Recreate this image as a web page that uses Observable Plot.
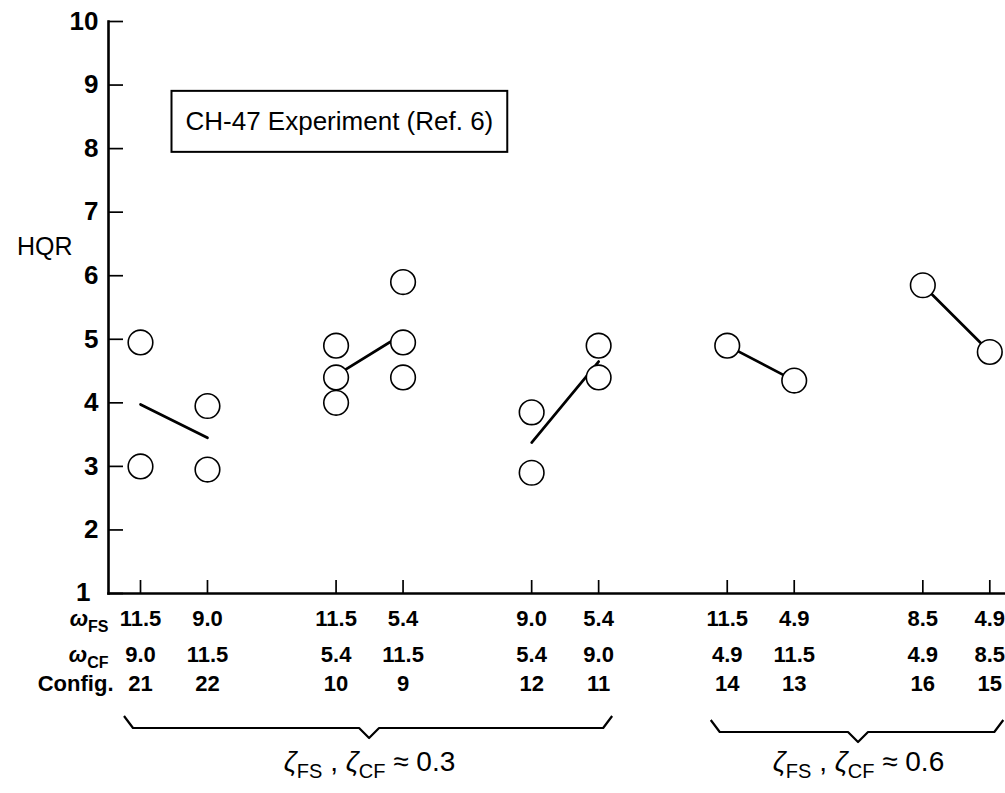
<!DOCTYPE html>
<html>
<head>
<meta charset="utf-8">
<script src="https://cdn.jsdelivr.net/npm/d3@7"></script>
<script src="https://cdn.jsdelivr.net/npm/@observablehq/plot@0.6"></script>
<style>
  html, body { margin: 0; padding: 0; background: #fff; overflow: hidden; }
  #chart svg { display: block; }
</style>
</head>
<body>
<div id="chart"></div>
<script>
// Configurations in the order they sit along the horizontal axis
const configs = ["21", "22", "10", "9", "12", "11", "14", "13", "16", "15"];
// Natural frequencies (rad/s) of the flight-control system and the control feel system
const omegaFS = ["11.5", "9.0", "11.5", "5.4", "9.0", "5.4", "11.5", "4.9", "8.5", "4.9"];
const omegaCF = ["9.0", "11.5", "5.4", "11.5", "5.4", "9.0", "4.9", "11.5", "4.9", "8.5"];

// Individual handling-qualities ratings, one entry per pilot evaluation
const ratingConfig = ["21", "21", "22", "22", "10", "10", "10", "9", "9", "9", "12", "12", "11", "11", "14", "13", "16", "15"];
const ratingHQR    = [4.95, 3.0, 3.95, 2.95, 4.9, 4.4, 4.0, 5.9, 4.95, 4.4, 3.85, 2.9, 4.9, 4.4, 4.9, 4.35, 5.85, 4.8];

// Damping brackets: first and last configuration covered, and the damping ratio
const dampingFirst = ["21", "14"];
const dampingLast  = ["11", "15"];
const dampingValue = ["0.3", "0.6"];

const yTicks = [1, 2, 3, 4, 5, 6, 7, 8, 9, 10];

// ---- layout ----
const W = 1005, H = 793;
const mL = 108, mR = 0, mT = 21, mB = 200;
const frameW = W - mL - mR, frameH = H - mT - mB;
const PAIR_STEP = 2.92;                 // spacing between the config pairs, in slot units
const slotOf = new Map(configs.map((c, i) => [c, Math.floor(i / 2) * PAIR_STEP + (i % 2)]));
const rowDy = [32.5, 68, 97.5];         // table rows below the axis, px

const ratings = ratingConfig.map((c, i) => ({config: c, hqr: ratingHQR[i]}));
const means = configs.map((c, i) => ({
  config: c,
  pair: Math.floor(i / 2),
  hqr: d3.mean(ratings.filter(r => r.config === c), r => r.hqr)
}));
const brackets = dampingValue.map((v, i) => ({
  value: v,
  first: dampingFirst[i],
  last: dampingLast[i],
  mid: (slotOf.get(dampingFirst[i]) + slotOf.get(dampingLast[i])) / 2
}));

const font = "'Liberation Sans', Arial, Helvetica, sans-serif";
const tableText = {fontSize: 22, fontWeight: "bold"};

const plot = Plot.plot({
  width: W,
  height: H,
  marginLeft: mL,
  marginRight: mR,
  marginTop: mT,
  marginBottom: mB,
  style: {fontFamily: font, color: "#000", background: "#fff", overflow: "visible"},
  x: {domain: [0, slotOf.get("15")], range: [140, 989.3], axis: null},
  y: {domain: [1, 10], axis: null},
  marks: [
    // axes
    Plot.frame({anchor: "left", stroke: "#000", strokeWidth: 2.6, strokeLinecap: "square"}),
    Plot.frame({anchor: "bottom", stroke: "#000", strokeWidth: 2.6, strokeLinecap: "square"}),
    Plot.tickY(yTicks, {y: d => d, stroke: "#000", strokeWidth: 1.7, insetRight: frameW - 15}),
    Plot.tickX(configs, {x: c => slotOf.get(c), stroke: "#000", strokeWidth: 1.7, insetTop: frameH - 13}),
    Plot.text(yTicks.filter(d => d > 1), {y: d => d, text: d => String(d), frameAnchor: "left", dx: -10,
      textAnchor: "end", fontSize: 26, fontWeight: "bold"}),
    Plot.text(yTicks.filter(d => d === 1), {y: d => d, text: d => String(d), frameAnchor: "left", dx: -18, dy: -1,
      textAnchor: "end", fontSize: 26, fontWeight: "bold"}),
    Plot.text(["HQR"], {frameAnchor: "top-left", dx: -36, dy: 216, textAnchor: "end", fontSize: 25}),

    // mean rating of each configuration, joined within each pair
    Plot.line(means, {x: d => slotOf.get(d.config), y: "hqr", z: "pair", stroke: "#000", strokeWidth: 2.7}),
    // individual ratings
    Plot.dot(ratings, {x: d => slotOf.get(d.config), y: "hqr", r: 12.3, fill: "#fff", stroke: "#000", strokeWidth: 1.6}),

    // experiment label
    Plot.text(["CH-47 Experiment (Ref. 6)"], {frameAnchor: "top-left", dx: 77, dy: 90.4,
      textAnchor: "start", fontSize: 26}),

    // frequency table under the axis
    Plot.text(configs, {x: c => slotOf.get(c), text: (c, i) => omegaFS[i], frameAnchor: "bottom", dy: rowDy[0], ...tableText}),
    Plot.text(configs, {x: c => slotOf.get(c), text: (c, i) => omegaCF[i], frameAnchor: "bottom", dy: rowDy[1], ...tableText}),
    Plot.text(configs, {x: c => slotOf.get(c), text: c => c, frameAnchor: "bottom", dy: rowDy[2], ...tableText}),
    Plot.text(["ω_FS"], {frameAnchor: "bottom-left", dx: 0, dy: rowDy[0], textAnchor: "end", ...tableText}),
    Plot.text(["ω_CF"], {frameAnchor: "bottom-left", dx: 0, dy: rowDy[1], textAnchor: "end", ...tableText}),
    Plot.text(["Config."], {frameAnchor: "bottom-left", dx: 5, dy: rowDy[2], textAnchor: "end", ...tableText}),

    // damping bracket labels
    Plot.text(brackets, {x: "mid", text: d => `ζ_FS , ζ_CF ≈ ${d.value}`, frameAnchor: "bottom", dy: 177,
      fontSize: 28})
  ]
});

document.getElementById("chart").appendChild(plot);
const svg = d3.select(plot);

// Turn "_XX" into subscripts and set Greek letters in italic
function richText(node, base) {
  const raw = node.textContent;
  if (!raw.includes("_")) return;
  const sub = Math.round(base * 0.72), shift = base * 0.28;
  node.textContent = "";
  const el = d3.select(node);
  let pending = 0;
  raw.split(/(_[A-Za-z]+)/).filter(s => s.length).forEach(part => {
    if (part.startsWith("_")) {
      el.append("tspan").attr("font-size", sub).attr("dy", shift - pending).text(part.slice(1));
      pending = shift;
    } else {
      part.split(/([\u03b1-\u03c9])/).filter(s => s.length).forEach(p => {
        const ts = el.append("tspan").text(p);
        if (/[\u03b1-\u03c9]/.test(p)) ts.attr("font-style", "italic");
        if (pending) { ts.attr("dy", -pending); pending = 0; }
      });
    }
  });
}
svg.selectAll("text").each(function () {
  const fs = parseFloat(getComputedStyle(this).fontSize) || 22;
  richText(this, fs);
});

// Box around the experiment label
svg.selectAll("text").filter(function () { return this.textContent.startsWith("CH-47"); })
  .each(function () {
    const b = this.getBBox();
    const m = this.getCTM();
    const cx = b.x * m.a + m.e, cy = (b.y + b.height / 2) * m.d + m.f;
    svg.append("rect")
      .attr("x", cx - 14).attr("y", cy - 30.5)
      .attr("width", b.width + 28).attr("height", 61)
      .attr("fill", "none").attr("stroke", "#000").attr("stroke-width", 2);
  });

// Braces under the table, spanning each damping group
const xs = plot.scale("x");
const yBase = plot.scale("y").apply(1);
brackets.forEach((b, i) => {
  const x0 = xs.apply(slotOf.get(b.first)) - 16;
  const x1 = xs.apply(slotOf.get(b.last)) + 14;
  const xm = xs.apply(b.mid);
  const yb = yBase + 135 + i * 4;
  const p = d3.path();
  p.moveTo(x0, yb - 12);
  p.lineTo(x0 + 9, yb);
  p.lineTo(xm - 10, yb);
  p.lineTo(xm, yb + 10);
  p.lineTo(xm + 10, yb);
  p.lineTo(x1 - 9, yb);
  p.lineTo(x1, yb - 12);
  svg.append("path").attr("d", p.toString())
    .attr("fill", "none").attr("stroke", "#000").attr("stroke-width", 2.2)
    .attr("stroke-linejoin", "round");
});
</script>
</body>
</html>
